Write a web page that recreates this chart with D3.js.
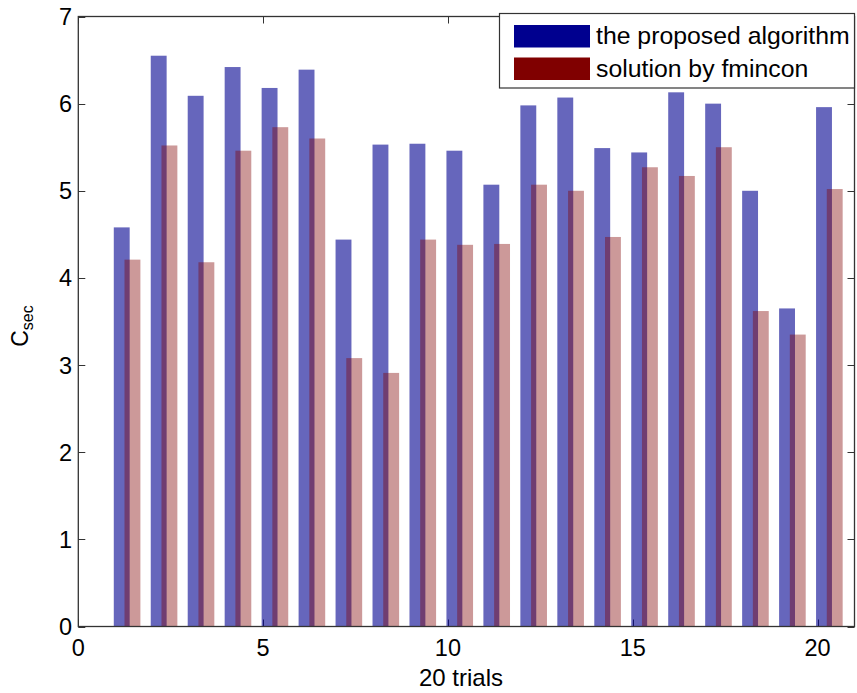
<!DOCTYPE html>
<html>
<head>
<meta charset="utf-8">
<script src="https://cdn.jsdelivr.net/npm/d3@7"></script>
<style>
  html, body { margin: 0; padding: 0; background: #fff; }
  svg { display: block; font-family: "Liberation Sans", Arial, sans-serif; }
</style>
</head>
<body>
<svg id="chart" width="857" height="693"></svg>
<script>
// Trial numbers and the C_sec value each method reached
const trials = d3.range(1, 21);
const proposed = [4.58, 6.55, 6.09, 6.42, 6.18, 6.39, 4.44, 5.53, 5.54, 5.46,
                  5.07, 5.98, 6.07, 5.49, 5.44, 6.13, 6.00, 5.00, 3.65, 5.96];
const fmincon  = [4.21, 5.52, 4.18, 5.46, 5.73, 5.60, 3.08, 2.91, 4.44, 4.38,
                  4.39, 5.07, 5.00, 4.47, 5.27, 5.17, 5.50, 3.62, 3.35, 5.02];
const seriesNames = ["the proposed algorithm", "solution by fmincon"];
const xTicks = [0, 5, 10, 15, 20];
const yTicks = [0, 1, 2, 3, 4, 5, 6, 7];

const svg = d3.select("#chart");
const plot = { left: 78.3, right: 854.5, top: 16.5, bottom: 626.5 };

const x = d3.scaleLinear().domain([0, 21]).range([plot.left, plot.right]);
const y = d3.scaleLinear().domain([0, 7]).range([plot.bottom, plot.top]);

const series = [
  { name: seriesNames[0], values: proposed, color: "rgb(0,0,143)", alpha: 0.6, start: -0.04, width: 0.43 },
  { name: seriesNames[1], values: fmincon,  color: "rgb(128,0,0)", alpha: 0.4, start: 0.25,  width: 0.43 }
];

const axisColor = "#333";
const tickLen = 7;

// tick marks (drawn beneath the translucent bars)
const tickG = svg.append("g").attr("stroke", axisColor).attr("stroke-width", 1);
xTicks.forEach(t => {
  const px = Math.round(x(t)) + 0.5;
  tickG.append("line").attr("x1", px).attr("x2", px).attr("y1", plot.bottom).attr("y2", plot.bottom - tickLen);
  tickG.append("line").attr("x1", px).attr("x2", px).attr("y1", plot.top).attr("y2", plot.top + tickLen);
});
yTicks.forEach(t => {
  const py = Math.round(y(t)) + 0.5;
  tickG.append("line").attr("x1", plot.left).attr("x2", plot.left + tickLen).attr("y1", py).attr("y2", py);
  tickG.append("line").attr("x1", plot.right).attr("x2", plot.right - tickLen).attr("y1", py).attr("y2", py);
});

// bars
series.forEach(s => {
  svg.append("g")
    .selectAll("rect")
    .data(trials.map((t, i) => ({ t, v: s.values[i] })))
    .join("rect")
    .attr("x", d => x(d.t + s.start))
    .attr("width", d => x(d.t + s.start + s.width) - x(d.t + s.start))
    .attr("y", d => y(d.v))
    .attr("height", d => y(0) - y(d.v))
    .attr("fill", s.color)
    .attr("fill-opacity", s.alpha);
});

// axes box
svg.append("rect")
  .attr("x", plot.left).attr("y", plot.top)
  .attr("width", plot.right - plot.left).attr("height", plot.bottom - plot.top)
  .attr("fill", "none").attr("stroke", axisColor).attr("stroke-width", 1.3);

// tick labels
svg.append("g").selectAll("text").data(xTicks).join("text")
  .attr("x", d => x(d)).attr("y", 656)
  .attr("text-anchor", "middle").attr("font-size", 23.5).attr("fill", "#000")
  .text(d => d);

svg.append("g").selectAll("text").data(yTicks).join("text")
  .attr("x", 72).attr("y", d => y(d)).attr("dy", "0.36em")
  .attr("text-anchor", "end").attr("font-size", 23.5).attr("fill", "#000")
  .text(d => d);

// axis titles
svg.append("text")
  .attr("x", 461).attr("y", 686)
  .attr("text-anchor", "middle").attr("font-size", 24).attr("fill", "#000")
  .text("20 trials");

const yTitle = svg.append("text")
  .attr("transform", "translate(28,326) rotate(-90)")
  .attr("text-anchor", "middle").attr("fill", "#000");
yTitle.append("tspan").attr("font-size", 23).text("C");
yTitle.append("tspan").attr("font-size", 16).attr("dy", 5).text("sec");

// legend
const legend = svg.append("g");
legend.append("rect")
  .attr("x", 499.5).attr("y", 13.5).attr("width", 355).attr("height", 74.5)
  .attr("fill", "#fff").attr("stroke", axisColor).attr("stroke-width", 1.2);
series.forEach((s, i) => {
  const top = 25 + i * 32.5;
  legend.append("rect")
    .attr("x", 514).attr("y", top).attr("width", 76).attr("height", 22.5)
    .attr("fill", s.color);
  legend.append("text")
    .attr("x", 596).attr("y", top + 19).attr("font-size", 24.8).attr("fill", "#000")
    .text(s.name);
});
</script>
</body>
</html>
